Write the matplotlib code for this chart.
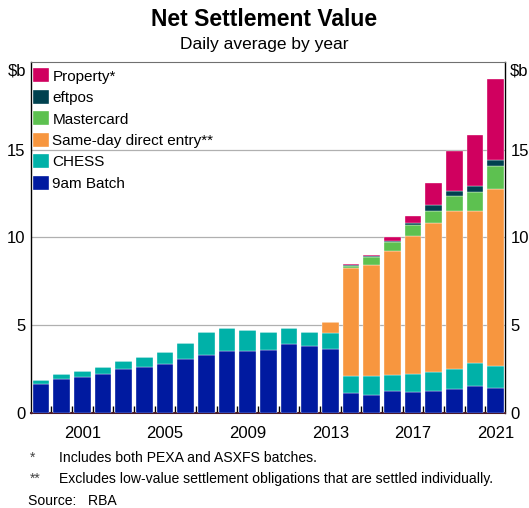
import numpy as np
import matplotlib
matplotlib.use("Agg")
from matplotlib import pyplot as plt

plt.rcParams['font.family'] = ['Liberation Sans', 'DejaVu Sans']

years = list(range(1999, 2022))
batch_9am = [1.63, 1.95, 2.06, 2.23, 2.52, 2.63, 2.80, 3.05, 3.33, 3.52, 3.52, 3.60,
             3.94, 3.83, 3.66, 1.16, 1.02, 1.23, 1.21, 1.27, 1.35, 1.55, 1.42]
chess = [0.25, 0.25, 0.33, 0.38, 0.43, 0.55, 0.67, 0.93, 1.29, 1.33, 1.20, 1.04,
         0.91, 0.79, 0.87, 0.96, 1.10, 0.93, 1.04, 1.08, 1.17, 1.29, 1.23]
sdde = [0, 0, 0, 0, 0, 0, 0, 0, 0, 0, 0, 0,
        0, 0, 0.68, 6.12, 6.31, 7.06, 7.83, 8.46, 8.98, 8.69, 10.10]
mastercard = [0, 0, 0, 0, 0, 0, 0, 0, 0, 0, 0, 0,
              0, 0, 0, 0.15, 0.45, 0.55, 0.64, 0.72, 0.87, 1.04, 1.34]
eftpos = [0, 0, 0, 0, 0, 0, 0, 0, 0, 0, 0, 0,
          0, 0, 0, 0.04, 0.04, 0.03, 0.08, 0.31, 0.30, 0.35, 0.32]
property_ = [0, 0, 0, 0, 0, 0, 0, 0, 0, 0, 0, 0,
             0, 0, 0, 0.05, 0.07, 0.22, 0.45, 1.28, 2.25, 2.91, 4.64]

series = [
    ("9am Batch", batch_9am, "#001aa0"),
    ("CHESS", chess, "#00b1a8"),
    ("Same-day direct entry**", sdde, "#f7963f"),
    ("Mastercard", mastercard, "#5dc150"),
    ("eftpos", eftpos, "#00414f"),
    ("Property*", property_, "#d0005f"),
]

fig = plt.figure(figsize=(5.29, 5.08), dpi=100)
ax = fig.add_axes([0.0586, 0.187, 0.896, 0.691])

x = np.array(years)
bottom = np.zeros(len(years))
handles = []
for name, vals, col in series:
    v = np.array(vals)
    b = ax.bar(x, v, width=0.8, bottom=bottom, color=col, edgecolor="white",
               linewidth=0.25, label=name, zorder=3)
    handles.append(b)
    bottom += v

ax.set_xlim(1998.52, 2021.45)
ax.set_ylim(0, 20)
ax.set_yticks([0, 5, 10, 15])
ax.yaxis.grid(True, color="#b0b0b0", linewidth=0.9, zorder=0)
ax.tick_params(axis="y", length=0, labelsize=12, labelright=True, right=False, pad=4)

ax.set_xticks([2001, 2005, 2009, 2013, 2017, 2021])
ax.set_xticks(np.arange(1999.5, 2021, 1), minor=True)
ax.tick_params(axis="x", which="major", length=0, labelsize=12, pad=9)
ax.tick_params(axis="x", which="minor", direction="in", length=5, width=1, color="black")

for s in ["left", "right"]:
    ax.spines[s].set_color("black")
    ax.spines[s].set_linewidth(1.0)
ax.spines["top"].set_color("#707070")
ax.spines["bottom"].set_color("#4a1a2a")
ax.spines["bottom"].set_linewidth(1.5)

ax.text(-0.01, 0.975, "$b", transform=ax.transAxes, ha="right", va="center", fontsize=12)
ax.text(1.01, 0.975, "$b", transform=ax.transAxes, ha="left", va="center", fontsize=12)

leg = ax.legend(handles[::-1], [s[0] for s in series][::-1], loc="upper left",
                frameon=False, fontsize=11, handlelength=1.0, handleheight=1.0,
                handletextpad=0.25, labelspacing=0.42, borderaxespad=0.0, borderpad=0.15,
                bbox_to_anchor=(0.0, 0.988))

fig.text(0.5, 0.961, "Net Settlement Value", ha="center", va="center",
         fontsize=16.5, fontweight="bold")
fig.text(0.5, 0.912, "Daily average by year", ha="center", va="center", fontsize=12.5)

fig.text(0.057, 0.098, "*", ha="left", va="center", fontsize=10, color="#444444")
fig.text(0.112, 0.098, "Includes both PEXA and ASXFS batches.", ha="left", va="center", fontsize=10.1)
fig.text(0.057, 0.058, "**", ha="left", va="center", fontsize=10, color="#444444")
fig.text(0.112, 0.058, "Excludes low-value settlement obligations that are settled individually.",
         ha="left", va="center", fontsize=10.1)
fig.text(0.053, 0.014, "Source:   RBA", ha="left", va="center", fontsize=10.1)

plt.savefig("out.png", dpi=100)
